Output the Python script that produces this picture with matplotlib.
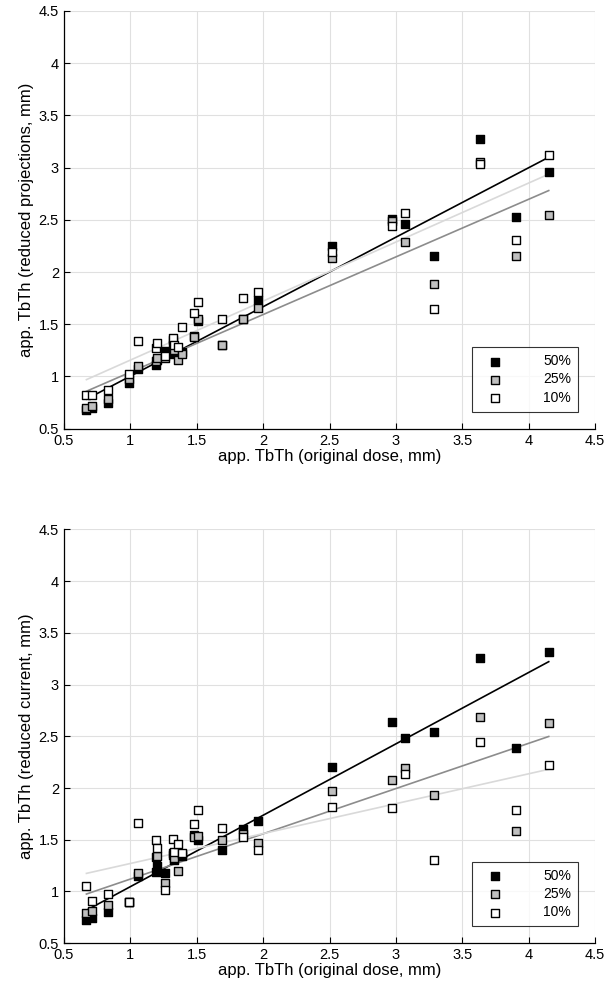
#!/usr/bin/env python3
"""Apparent TbTh: reduced dose vs original dose, two panels."""

import matplotlib
matplotlib.use("Agg")
import matplotlib.pyplot as plt
import numpy as np

plt.rcParams["font.family"] = ["Liberation Sans", "DejaVu Sans"]

# app. TbTh at original dose (shared x for both panels)
orig_dose = [0.67, 0.71, 0.83, 0.99, 1.06, 1.19, 1.20, 1.26, 1.32, 1.33, 1.36, 1.39,
             1.48, 1.51, 1.69, 1.85, 1.96, 2.52, 2.97, 3.07, 3.29, 3.63, 3.90, 4.15]

# reduced projections
proj_50 = [0.68, 0.70, 0.75, 0.94, 1.07, 1.11, 1.16, 1.24, 1.30, 1.22, 1.23, 1.23,
           1.39, 1.53, 1.30, 1.55, 1.73, 2.25, 2.51, 2.46, 2.15, 3.27, 2.53, 2.96]
proj_25 = [0.70, 0.72, 0.78, 0.98, 1.10, 1.15, 1.18, 1.18, 1.35, 1.25, 1.16, 1.22,
           1.38, 1.55, 1.30, 1.55, 1.66, 2.13, 2.49, 2.29, 1.89, 3.05, 2.15, 2.55]
proj_10 = [0.82, 0.82, 0.87, 1.02, 1.34, 1.27, 1.32, 1.20, 1.37, 1.30, 1.28, 1.47,
           1.61, 1.71, 1.55, 1.75, 1.81, 2.19, 2.44, 2.57, 1.65, 3.03, 2.31, 3.12]

# reduced current
curr_50 = [0.72, 0.74, 0.80, 0.90, 1.15, 1.19, 1.25, 1.18, 1.37, 1.30, 1.34, 1.34,
           1.55, 1.50, 1.40, 1.60, 1.68, 2.20, 2.64, 2.48, 2.54, 3.26, 2.39, 3.31]
curr_25 = [0.79, 0.81, 0.87, 0.90, 1.18, 1.33, 1.34, 1.08, 1.35, 1.32, 1.20, 1.36,
           1.53, 1.54, 1.50, 1.56, 1.47, 1.97, 2.08, 2.19, 1.93, 2.69, 1.58, 2.63]
curr_10 = [1.05, 0.91, 0.98, 0.90, 1.66, 1.50, 1.42, 1.01, 1.51, 1.38, 1.46, 1.37,
           1.65, 1.79, 1.61, 1.53, 1.40, 1.82, 1.81, 2.14, 1.30, 2.44, 1.79, 2.22]

levels = ["50%", "25%", "10%"]
face = ["black", "0.75", "white"]
fit_color = ["black", "0.55", "0.85"]

ticks = [0.5, 1, 1.5, 2, 2.5, 3, 3.5, 4, 4.5]
tick_labels = ["0.5", "1", "1.5", "2", "2.5", "3", "3.5", "4", "4.5"]


def draw_panel(ax, series, ylabel):
    x = np.array(orig_dose)
    handles = []
    for y, lc in zip(series, fit_color):
        slope, icpt = np.polyfit(x, np.array(y), 1)
        xl = np.array([x.min(), x.max()])
        ax.plot(xl, slope * xl + icpt, color=lc, linewidth=1.2, zorder=2)
    for y, fc, name in zip(series, face, levels):
        h = ax.scatter(orig_dose, y, s=32, marker="s", facecolor=fc,
                       edgecolor="black", linewidth=1.0, zorder=3, label=name)
        handles.append(h)

    ax.set_xlim(0.5, 4.5)
    ax.set_ylim(0.5, 4.5)
    ax.set_xticks(ticks)
    ax.set_xticklabels(tick_labels)
    ax.set_yticks(ticks)
    ax.set_yticklabels(tick_labels)
    ax.grid(True, color="0.88", linewidth=0.8)
    ax.set_axisbelow(True)
    for side in ("top", "right"):
        ax.spines[side].set_visible(False)
    for side in ("left", "bottom"):
        ax.spines[side].set_linewidth(0.9)
    ax.tick_params(direction="in", length=4, labelsize=10.5, colors="black")
    ax.set_xlabel("app. TbTh (original dose, mm)", fontsize=12, labelpad=1)
    ax.set_ylabel(ylabel, fontsize=12, labelpad=3)

    leg = ax.legend(handles=handles, loc="lower right", bbox_to_anchor=(0.968, 0.041),
                    fontsize=10, frameon=True, fancybox=False, edgecolor="black",
                    handletextpad=2.4, borderpad=0.5, labelspacing=0.3,
                    markerscale=1.0, borderaxespad=0.0, handlelength=2.2)
    leg.get_frame().set_linewidth(0.8)


fig = plt.figure(figsize=(6.08, 9.97), dpi=100)
ax_top = fig.add_axes([0.105, 0.570, 0.874, 0.419])
ax_bot = fig.add_axes([0.105, 0.054, 0.874, 0.415])

draw_panel(ax_top, [proj_50, proj_25, proj_10], "app. TbTh (reduced projections, mm)")
draw_panel(ax_bot, [curr_50, curr_25, curr_10], "app. TbTh (reduced current, mm)")

fig.savefig("out.png", dpi=100)
